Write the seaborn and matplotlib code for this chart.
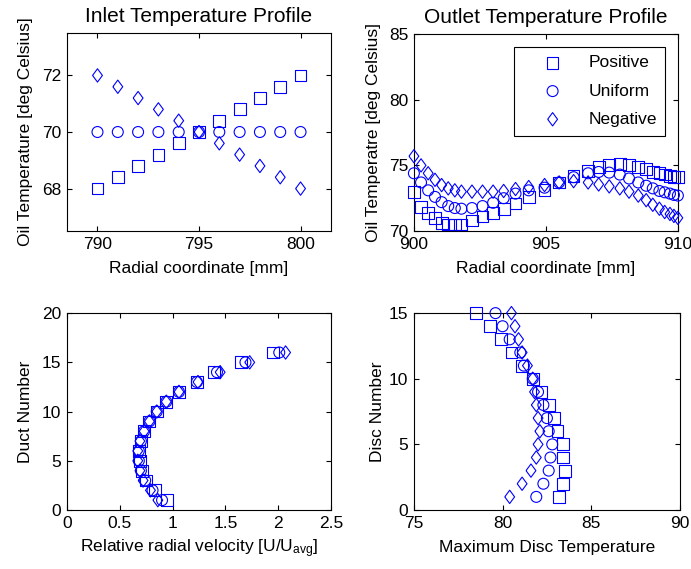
import matplotlib.pyplot as plt
import seaborn as sns
from matplotlib.path import Path

sns.set_style("ticks")
plt.rcParams['font.family'] = ['Liberation Sans', 'DejaVu Sans']
plt.rcParams['font.size'] = 12.5
plt.rcParams['mathtext.fontset'] = 'custom'
plt.rcParams['mathtext.rm'] = 'Liberation Sans'
plt.rcParams['mathtext.it'] = 'Liberation Sans'
plt.rcParams['text.color'] = 'black'
plt.rcParams['axes.labelcolor'] = 'black'
plt.rcParams['axes.edgecolor'] = 'black'
plt.rcParams['xtick.color'] = 'black'
plt.rcParams['ytick.color'] = 'black'

# inlet temperature profile
inlet_r = [790, 791, 792, 793, 794, 795, 796, 797, 798, 799, 800]
inlet_pos = [68.0, 68.4, 68.8, 69.2, 69.6, 70.0, 70.4, 70.8, 71.2, 71.6, 72.0]
inlet_uni = [70.0, 70.0, 70.0, 70.0, 70.0, 70.0, 70.0, 70.0, 70.0, 70.0, 70.0]
inlet_neg = [72.0, 71.6, 71.2, 70.8, 70.4, 70.0, 69.6, 69.2, 68.8, 68.4, 68.0]

# outlet temperature profile
outlet_r = [900.0, 900.27, 900.54, 900.8, 901.05, 901.3, 901.55, 901.8, 902.2, 902.6,
            903.0, 903.4, 903.85, 904.35, 904.95, 905.5, 906.05, 906.6, 907.0, 907.4,
            907.8, 908.15, 908.5, 908.8, 909.05, 909.3, 909.5, 909.7, 909.85, 910.0]
outlet_pos = [73.0, 71.8, 71.4, 71.0, 70.6, 70.5, 70.5, 70.5, 70.8, 71.1,
              71.4, 71.7, 72.1, 72.6, 73.1, 73.7, 74.2, 74.6, 74.9, 75.0,
              75.1, 75.0, 74.9, 74.7, 74.5, 74.4, 74.3, 74.2, 74.1, 74.1]
outlet_uni = [74.4, 73.7, 73.1, 72.6, 72.2, 71.9, 71.75, 71.7, 71.75, 71.9,
              72.15, 72.5, 72.85, 73.1, 73.3, 73.7, 74.1, 74.4, 74.5, 74.45,
              74.3, 74.0, 73.7, 73.45, 73.25, 73.05, 72.95, 72.85, 72.75, 72.7]
outlet_neg = [75.7, 75.0, 74.4, 73.9, 73.5, 73.25, 73.1, 73.0, 73.0, 73.0,
              73.0, 73.05, 73.2, 73.35, 73.5, 73.7, 73.8, 73.7, 73.55, 73.4,
              73.25, 73.0, 72.7, 72.35, 72.0, 71.7, 71.45, 71.3, 71.15, 71.0]

# relative radial velocity per duct
duct = [1, 2, 3, 4, 5, 6, 7, 8, 9, 10, 11, 12, 13, 14, 15, 16]
vel_pos = [0.95, 0.83, 0.75, 0.71, 0.69, 0.68, 0.70, 0.73, 0.78, 0.85, 0.94, 1.06, 1.23, 1.39, 1.65, 1.95]
vel_uni = [0.90, 0.81, 0.74, 0.70, 0.68, 0.68, 0.70, 0.73, 0.78, 0.85, 0.94, 1.06, 1.23, 1.42, 1.69, 2.01]
vel_neg = [0.86, 0.79, 0.72, 0.69, 0.67, 0.67, 0.69, 0.73, 0.78, 0.85, 0.94, 1.06, 1.24, 1.45, 1.73, 2.07]

# maximum disc temperature per disc
disc = [1, 2, 3, 4, 5, 6, 7, 8, 9, 10, 11, 12, 13, 14, 15]
disc_pos = [83.2, 83.4, 83.5, 83.4, 83.4, 83.1, 82.9, 82.6, 82.2, 81.7, 81.1, 80.5, 79.9, 79.3, 78.5]
disc_uni = [81.9, 82.3, 82.6, 82.7, 82.8, 82.6, 82.5, 82.3, 82.0, 81.7, 81.2, 81.0, 80.4, 80.0, 79.6]
disc_neg = [80.4, 81.1, 81.6, 81.9, 82.0, 82.1, 82.0, 81.9, 81.8, 81.7, 81.4, 81.1, 80.9, 80.7, 80.5]

labels = ['Positive', 'Uniform', 'Negative']

# matlab style thin diamond
thin_diamond = Path([(-0.37, 0), (0, 0.5), (0.37, 0), (0, -0.5), (-0.37, 0)])
markers = {'Positive': ('s', 72), 'Uniform': ('o', 62), 'Negative': (thin_diamond, 92)}


def draw(ax, xs, ys):
    for lab, x, y in zip(labels, xs, ys):
        m, s = markers[lab]
        sns.scatterplot(x=x, y=y, ax=ax, marker=m, s=s, facecolor='none',
                        edgecolor='blue', linewidth=0.8, label=lab, clip_on=False, zorder=3)
    ax.legend().remove()


fig = plt.figure(figsize=(6.91, 5.69), dpi=100)
ax1 = fig.add_axes([0.097, 0.594, 0.382, 0.348])
ax2 = fig.add_axes([0.599, 0.594, 0.382, 0.346])
ax3 = fig.add_axes([0.097, 0.1037, 0.382, 0.346])
ax4 = fig.add_axes([0.599, 0.1037, 0.385, 0.346])

## inlet ----------------------------------------------------------------
draw(ax1, [inlet_r] * 3, [inlet_pos, inlet_uni, inlet_neg])
ax1.set(xlim=(788.5, 801.5), ylim=(66.5, 73.5), xticks=[790, 795, 800], yticks=[68, 70, 72])
ax1.set_title('Inlet Temperature Profile', pad=8)
ax1.set_xlabel('Radial coordinate [mm]', labelpad=7)
ax1.set_ylabel('Oil Temperature [deg Celsius]')
ax1.yaxis.set_label_coords(-0.13, 0.5)

## outlet ---------------------------------------------------------------
draw(ax2, [outlet_r] * 3, [outlet_pos, outlet_uni, outlet_neg])
ax2.set(xlim=(900, 910), ylim=(70, 85), xticks=[900, 905, 910], yticks=[70, 75, 80, 85])
ax2.set_title('Outlet Temperature Profile', pad=8)
ax2.set_xlabel('Radial coordinate [mm]', labelpad=7)
ax2.set_ylabel('Oil Temperatre [deg Celsius]')
ax2.yaxis.set_label_coords(-0.125, 0.5)
leg = ax2.legend(loc='upper right', frameon=True, fancybox=False, framealpha=1,
                 edgecolor='black', borderaxespad=0.72, borderpad=0.5,
                 handlelength=3.5, handletextpad=0.3, labelspacing=0.75, scatterpoints=1)
leg.get_frame().set_linewidth(0.8)

## ducts ----------------------------------------------------------------
draw(ax3, [vel_pos, vel_uni, vel_neg], [duct] * 3)
ax3.set(xlim=(0, 2.5), ylim=(0, 20), xticks=[0, 0.5, 1, 1.5, 2, 2.5], yticks=[0, 5, 10, 15, 20])
ax3.set_xticklabels(['0', '0.5', '1', '1.5', '2', '2.5'])
ax3.set_xlabel('Relative radial velocity [U/U$_{\\mathrm{avg}}$]', labelpad=5)
ax3.set_ylabel('Duct Number')
ax3.yaxis.set_label_coords(-0.13, 0.5)

## discs ----------------------------------------------------------------
draw(ax4, [disc_pos, disc_uni, disc_neg], [disc] * 3)
ax4.set(xlim=(75, 90), ylim=(0, 15), xticks=[75, 80, 85, 90], yticks=[0, 5, 10, 15])
ax4.set_xlabel('Maximum Disc Temperature', labelpad=7)
ax4.set_ylabel('Disc Number')
ax4.yaxis.set_label_coords(-0.11, 0.5)

for ax in [ax1, ax2, ax3, ax4]:
    for sp in ax.spines.values():
        sp.set_visible(True)
        sp.set_linewidth(0.8)
    ax.tick_params(which='both', top=True, right=True, direction='in',
                   length=3.5, width=0.8, pad=4)

plt.savefig('out.png', dpi=100)
